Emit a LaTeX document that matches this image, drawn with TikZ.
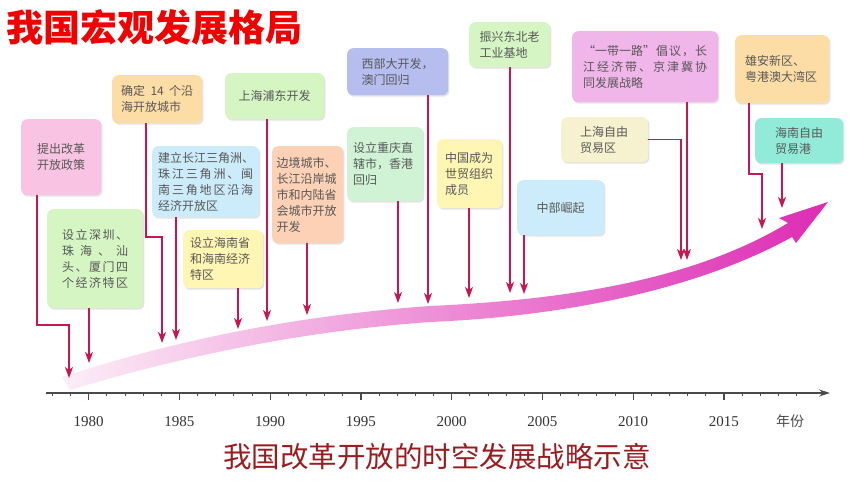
\documentclass[tikz,border=0pt]{standalone}
\usepackage{fontspec}
\setmainfont{Liberation Serif}
\newfontfamily\cjk{Noto Sans CJK SC}
\usetikzlibrary{arrows.meta,shadows}
\definecolor{titlered}{HTML}{F20000}
\definecolor{capred}{HTML}{9A1C1F}
\definecolor{txt}{HTML}{585858}
\definecolor{conncol}{HTML}{C8174F}
\definecolor{axiscol}{HTML}{4A4A4A}
\definecolor{cPink}{HTML}{F9C3E3}
\definecolor{cPeach}{HTML}{FDDDA6}
\definecolor{cGreen}{HTML}{D5F5C3}
\definecolor{cBlue}{HTML}{CCECFB}
\definecolor{cYellow}{HTML}{FFF6B3}
\definecolor{cSalmon}{HTML}{FCD1B6}
\definecolor{cLav}{HTML}{B6BEF0}
\definecolor{cMint}{HTML}{D0F3D6}
\definecolor{cMagenta}{HTML}{F0B6EA}
\definecolor{cCream}{HTML}{F6F1CF}
\definecolor{cTeal}{HTML}{92EAD9}
\definecolor{bandL}{HTML}{FCEEF7}
\definecolor{bandM}{HTML}{E77FCE}
\definecolor{bandR}{HTML}{DD2CB4}
\newcommand\jst[1]{\makebox[\linewidth][s]{#1}}
\newcommand\hf{\hspace{0pt plus 1fil}}
\tikzset{
  box/.style={rounded corners=6pt, inner sep=0pt, anchor=north west,
    font=\cjk\fontsize{12}{16}\selectfont, text=txt,
    drop shadow={shadow xshift=1.2pt, shadow yshift=-1.5pt, opacity=0.22, fill=gray}},
  conn/.style={draw=conncol, line width=1.3pt,
    -{Stealth[length=11pt,width=8pt,inset=3pt]}},
  axisline/.style={draw=axiscol, line width=1.1pt},
  yearlab/.style={font=\fontsize{15}{15}\selectfont, text=black!80, inner sep=0pt}
}
\begin{document}
\begin{tikzpicture}[x=1pt,y=-1pt]
\useasboundingbox (0,0) rectangle (860,484);
\fill[white] (0,0) rectangle (860,484);

% big gradient arrow
\shade[left color=bandL, middle color=bandM, right color=bandR]
  (62,377) .. controls (170,342) and (290,316) .. (430,306)
  .. controls (560,300) and (690,282) .. (788,223)
  -- (779,218) -- (828,202) -- (796,243) -- (792,237)
  .. controls (700,288) and (570,316) .. (430,322)
  .. controls (290,332) and (170,360) .. (70,390) -- cycle;

% axis
\draw[axisline, -{Stealth[length=11pt,width=7pt]}] (46,393) -- (830,393);
\foreach \yr [evaluate=\yr as \xx using 88.7+(\yr-1980)*18.15] in {1978,...,2019}
  \draw[axisline, line width=0.9pt] (\xx,393) -- ++(0,3);
\foreach \yr [evaluate=\yr as \xx using 88.7+(\yr-1980)*18.15] in {1980,1985,...,2015}{
  \draw[axisline] (\xx,393) -- ++(0,7);
  \node[yearlab] (y\yr) at (\xx,422) {\yr};
}
\node[font=\cjk\fontsize{14}{14}\selectfont, text=black!70, inner sep=0pt] (unit) at (790,421) {年份};

% title and caption
\node[anchor=base west, inner sep=0pt, text=titlered, font=\cjk\bfseries\fontsize{37}{40}\selectfont] (title) at (6,42) {我国宏观发展格局};
\node[anchor=base, inner sep=0pt, text=capred, font=\cjk\fontsize{28.5}{30}\selectfont] (caption) at (437,467) {我国改革开放的时空发展战略示意};

% boxes
\node[box, fill=cPink, minimum width=80pt, minimum height=76pt, align=center] (B1) at (21,119) {提出改革\\开放政策};
\node[box, fill=cPeach, minimum width=90pt, minimum height=48pt, text width=72pt, align=left] (B2) at (112,75) {\jst{确定\hf 14\hf 个沿}\\海开放城市};
\node[box, fill=cGreen, minimum width=99pt, minimum height=46pt, align=center] (B3) at (225,73) {上海浦东开发};
\node[box, fill=cBlue, minimum width=107pt, minimum height=71pt, text width=95pt, align=left] (B4) at (152,146) {\jst{建\hf 立\hf 长\hf 江\hf 三\hf 角\hf 洲\hf 、}\\\jst{珠\hf 江\hf 三\hf 角\hf 洲\hf 、\hf 闽}\\\jst{南\hf 三\hf 角\hf 地\hf 区\hf 沿\hf 海}\\经济开放区};
\node[box, fill=cGreen, minimum width=96pt, minimum height=99pt, text width=66pt, align=left] (B5) at (47,209) {\jst{设\hf 立\hf 深\hf 圳\hf 、}\\\jst{珠\hf 海\hf 、\hf 汕}\\\jst{头\hf 、\hf 厦\hf 门\hf 四}\\\jst{个\hf 经\hf 济\hf 特\hf 区}};
\node[box, fill=cYellow, minimum width=80pt, minimum height=58pt, text width=66pt, align=left] (B6) at (183,230) {设立海南省\\和海南经济\\特区};
\node[box, fill=cSalmon, minimum width=71pt, minimum height=97pt, text width=62pt, align=left] (B7) at (272,146) {边境城市、\\长江沿岸城\\市和内陆省\\会城市开放\\开发};
\node[box, fill=cLav, minimum width=101pt, minimum height=47pt, text width=72pt, align=left] (B8) at (347,48) {西部大开发，\\澳门回归};
\node[box, fill=cMint, minimum width=76pt, minimum height=74pt, text width=64pt, align=left] (B9) at (347,127) {设立重庆直\\辖市，香港\\回归};
\node[box, fill=cYellow, minimum width=65pt, minimum height=69pt, text width=49pt, align=left] (B10) at (437,139) {中国成为\\世贸组织\\成员};
\node[box, fill=cGreen, minimum width=81pt, minimum height=45pt, text width=60pt, align=left] (B11) at (469,22) {振兴东北老\\工业基地};
\node[box, fill=cBlue, minimum width=87pt, minimum height=55pt, align=center] (B12) at (517,180) {中部崛起};
\node[box, fill=cMagenta, minimum width=146pt, minimum height=71pt, text width=124pt, align=left] (B13) at (572,31) {\jst{“一带一路”\hf 倡\hf 议\hf ，\hf 长}\\\jst{江\hf 经\hf 济\hf 带\hf 、\hf 京\hf 津\hf 冀\hf 协}\\同发展战略};
\node[box, fill=cCream, minimum width=87pt, minimum height=45pt, text width=49pt, align=left] (B14) at (561,117) {上海自由\\贸易区};
\node[box, fill=cPeach, minimum width=94pt, minimum height=68pt, text width=74pt, align=left] (B15) at (735,35) {雄安新区、\\粤港澳大湾区};
\node[box, fill=cTeal, minimum width=88pt, minimum height=45pt, text width=48pt, align=left] (B16) at (755,118) {海南自由\\贸易港};

% connector end points
\coordinate (e1) at (37,325);   \coordinate (t1) at (69,378);
\coordinate (t2) at (89,363);
\coordinate (e3) at (146,237);  \coordinate (t3) at (162,343);
\coordinate (t4) at (176,340);
\coordinate (t5) at (238,329);
\coordinate (t6) at (267,321);
\coordinate (t7) at (307,315);
\coordinate (t8) at (398,303);
\coordinate (t9) at (428,304);
\coordinate (t10) at (469,298);
\coordinate (t11) at (510,293);
\coordinate (t12) at (524,294);
\coordinate (t13) at (681,260);
\coordinate (t14) at (687,260);
\coordinate (e15) at (749,174); \coordinate (t15) at (762,229);
\coordinate (t16) at (782,208);

% connectors
\draw[conn] (B1.south -| e1) |- (t1 |- e1) -- (t1);
\draw[conn] (B5.south -| t2) -- (t2);
\draw[conn] (B2.south -| e3) |- (t3 |- e3) -- (t3);
\draw[conn] (B4.south -| t4) -- (t4);
\draw[conn] (B6.south -| t5) -- (t5);
\draw[conn] (B3.south -| t6) -- (t6);
\draw[conn] (B7.south -| t7) -- (t7);
\draw[conn] (B9.south -| t8) -- (t8);
\draw[conn] (B8.south -| t9) -- (t9);
\draw[conn] (B10.south -| t10) -- (t10);
\draw[conn] (B11.south -| t11) -- (t11);
\draw[conn] (B12.south -| t12) -- (t12);
\draw[conn] (B14.east) -| (t13);
\draw[conn] (B13.south -| t14) -- (t14);
\draw[conn] (B15.south -| e15) |- (t15 |- e15) -- (t15);
\draw[conn] (B16.south -| t16) -- (t16);
\end{tikzpicture}
\end{document}
